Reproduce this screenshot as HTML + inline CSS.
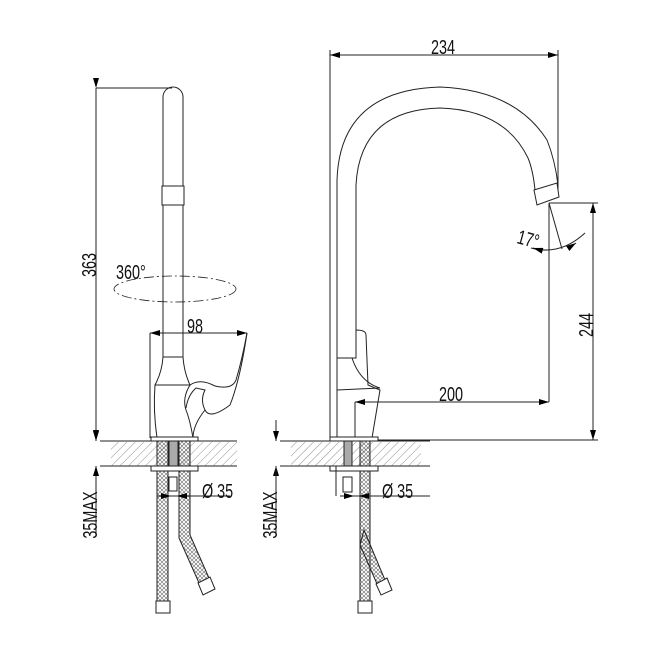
<!DOCTYPE html>
<html><head><meta charset="utf-8"><style>
html,body{margin:0;padding:0;background:#fff;}
svg{display:block;}
text{font-family:"Liberation Sans",sans-serif;fill:#111;}
</style></head><body>
<svg width="670" height="647" viewBox="0 0 670 647" xmlns="http://www.w3.org/2000/svg">
<defs>
<pattern id="h" width="6" height="6" patternUnits="userSpaceOnUse" patternTransform="rotate(45)">
<line x1="0" y1="0" x2="0" y2="6" stroke="#777" stroke-width="0.8"/>
</pattern>
<pattern id="b" width="4" height="4" patternUnits="userSpaceOnUse">
<path d="M0 0L2 2L4 0M0 4L2 2L4 4" stroke="#666" stroke-width="0.6" fill="none"/>
</pattern>
<marker id="a" markerWidth="10" markerHeight="6" refX="10" refY="3" orient="auto" markerUnits="userSpaceOnUse">
<path d="M0 0L10 3L0 6z" fill="#000"/>
</marker>
</defs>
<g stroke="#222" stroke-width="1" fill="none">
<line x1="96" y1="88" x2="96" y2="440" marker-start="url(#a)" marker-end="url(#a)"/>
<line x1="96" y1="88" x2="172" y2="88"/>
<line x1="96" y1="466" x2="96" y2="535"/>
<line x1="96" y1="420" x2="96" y2="441" marker-end="url(#a)"/>
<line x1="96" y1="490" x2="96" y2="466" marker-end="url(#a)"/>
<path d="M163 357 L163 97 A10 10 0 0 1 183 97 L183 357"/>
<rect x="162" y="186" width="22" height="19" fill="#fff"/>
<path d="M163 357 L183 357 Q184 372 190 385 L155 385 Q162 372 163 357 Z"/>
<path d="M155 385 Q153 410 157 438 L193 438 Q190 420 186 410 Q182 398 190 385"/>
<path d="M190 385 Q200 378 215 386 Q232 390 236 380 Q242 360 247 333"/>
<path d="M186 408 Q188 395 196 388 L205 390 Q200 400 205 410 Q210 420 230 405 Q240 380 247 333"/>
<path d="M193 438 Q193 425 205 410"/>
<line x1="150" y1="333" x2="150" y2="438"/>
<line x1="198" y1="333" x2="150" y2="333" marker-end="url(#a)"/>
<line x1="198" y1="333" x2="247" y2="333" marker-end="url(#a)"/>
<ellipse cx="175" cy="289" rx="61" ry="13" stroke-dasharray="10 3 2 3" stroke-width="0.8"/>
<rect x="111" y="442" width="126" height="24" fill="url(#h)" stroke="none"/>
<line x1="100" y1="441" x2="237" y2="441"/>
<line x1="100" y1="466" x2="237" y2="466"/>
<rect x="151" y="437" width="47" height="4" fill="#fff"/>
<rect x="151" y="466" width="47" height="5" fill="#fff"/>
<rect x="157" y="441" width="11" height="25" fill="url(#b)"/>
<rect x="179" y="441" width="11" height="25" fill="url(#b)"/>
<rect x="169" y="441" width="9" height="25" fill="#aaa"/>
<rect x="157" y="471" width="11" height="130" fill="url(#b)"/>
<path d="M179 471 L190 471 L190 535 L209 578 L199 583 L179 538 Z" fill="url(#b)"/>
<rect x="156" y="601" width="14" height="12" fill="#fff"/>
<path d="M198 583 L210 577 L215 589 L203 595 Z" fill="#fff"/>
<rect x="169" y="477" width="8" height="14" fill="#fff"/>
<line x1="157" y1="496" x2="230" y2="496"/>
<line x1="162" y1="496" x2="171" y2="496" marker-end="url(#a)"/>
<line x1="186" y1="496" x2="177" y2="496" marker-end="url(#a)"/>

<line x1="443" y1="55" x2="330" y2="55" marker-end="url(#a)"/>
<line x1="443" y1="55" x2="558" y2="55" marker-end="url(#a)"/>
<line x1="330" y1="50" x2="330" y2="440"/>
<line x1="558" y1="50" x2="558" y2="190"/>
<path d="M337 358 L337 180 Q340 90 440 87 Q515 90 547 140 Q555 160 558 185"/>
<path d="M356 358 L356 185 Q360 110 440 108 Q505 110 528 158 Q533 170 535 190"/>
<path d="M534 190 L557 183 L559 197 L537 205 Z" fill="#fff"/>
<path d="M337 358 L356 358 L356 330 Q366 330 366 335 L368 385 L380 390 L372 438"/>
<path d="M337 358 L337 438 L372 438"/>
<path d="M337 358 L352 358 Q360 382 380 388 L337 390"/>
<line x1="355" y1="402" x2="355" y2="438"/>
<line x1="450" y1="402" x2="355" y2="402" marker-end="url(#a)"/>
<line x1="450" y1="402" x2="549" y2="402" marker-end="url(#a)"/>
<line x1="549" y1="203" x2="549" y2="402"/>
<line x1="549" y1="203" x2="598" y2="203"/>
<line x1="378" y1="440" x2="598" y2="440"/>
<line x1="593" y1="320" x2="593" y2="203" marker-end="url(#a)"/>
<line x1="593" y1="320" x2="593" y2="440" marker-end="url(#a)"/>
<line x1="549" y1="203" x2="562" y2="249"/>
<path d="M531 248 Q560 256 585 233"/>
<line x1="540" y1="250" x2="533" y2="248" marker-end="url(#a)"/>
<line x1="570" y1="247" x2="576" y2="243" marker-end="url(#a)"/>
<rect x="291" y="442" width="130" height="24" fill="url(#h)" stroke="none"/>
<line x1="280" y1="441" x2="430" y2="441"/>
<line x1="280" y1="466" x2="430" y2="466"/>
<rect x="330" y="437" width="48" height="4" fill="#fff"/>
<rect x="330" y="466" width="48" height="5" fill="#fff"/>
<rect x="344" y="441" width="8" height="25" fill="#aaa"/>
<rect x="360" y="441" width="10" height="25" fill="url(#b)"/>
<line x1="336" y1="466" x2="336" y2="496"/>
<rect x="343" y="477" width="9" height="15" fill="#fff"/>
<rect x="360" y="471" width="10" height="130" fill="url(#b)"/>
<path d="M364 530 L385 580 L377 584 L360 545 Z" fill="url(#b)"/>
<rect x="358" y="601" width="14" height="12" fill="#fff"/>
<path d="M376 584 L387 578 L392 590 L381 595 Z" fill="#fff"/>
<line x1="340" y1="496" x2="430" y2="496"/>
<line x1="345" y1="496" x2="354" y2="496" marker-end="url(#a)"/>
<line x1="368" y1="496" x2="359" y2="496" marker-end="url(#a)"/>
<line x1="276" y1="420" x2="276" y2="441" marker-end="url(#a)"/>
<line x1="276" y1="490" x2="276" y2="466" marker-end="url(#a)"/>
<line x1="276" y1="466" x2="276" y2="535"/>
</g>
<g font-size="20">
<text transform="translate(96,265) rotate(-90) scale(0.72,1)" text-anchor="middle">363</text>
<text transform="translate(116,279) scale(0.72,1)">360°</text>
<text transform="translate(187,333) scale(0.72,1)">98</text>
<text transform="translate(202,498) scale(0.72,1)">Ø 35</text>
<text transform="translate(97,515) rotate(-90) scale(0.72,1)" text-anchor="middle">35MAX</text>
<text transform="translate(443,54) scale(0.72,1)" text-anchor="middle">234</text>
<text transform="translate(593,325) rotate(-90) scale(0.72,1)" text-anchor="middle">244</text>
<text transform="translate(451,401) scale(0.72,1)" text-anchor="middle">200</text>
<text transform="translate(516,243) rotate(15) scale(0.72,1)">17°</text>
<text transform="translate(382,498) scale(0.72,1)">Ø 35</text>
<text transform="translate(277,515) rotate(-90) scale(0.72,1)" text-anchor="middle">35MAX</text>
</g>
</svg>
</body></html>
